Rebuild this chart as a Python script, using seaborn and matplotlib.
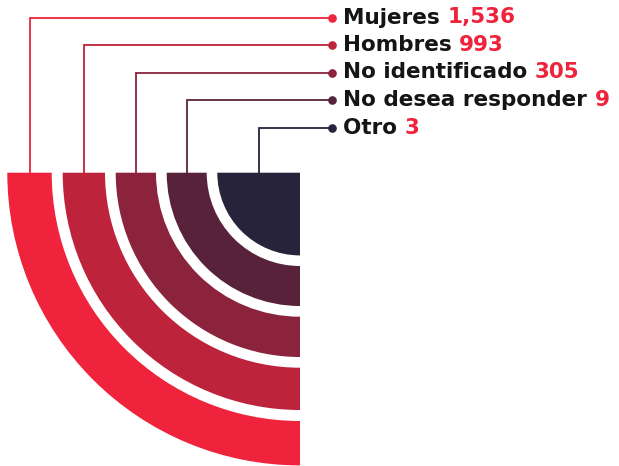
import matplotlib
matplotlib.use("Agg")
import matplotlib.pyplot as plt
from matplotlib.patches import Wedge
import seaborn as sns
import numpy as np

# --- dati ---
categorias = ["Mujeres", "Hombres", "No identificado", "No desea responder", "Otro"]
valores = [1536, 993, 305, 9, 3]
etiquetas_valor = ["1,536", "993", "305", "9", "3"]

sns.set_theme(style="white")
plt.rcParams["font.family"] = ["DejaVu Sans"]

colores = sns.blend_palette(["#ef233c", "#26233a"], len(categorias))

# geometria in pixel (cerchio con centro in alto a destra del quarto)
W, H = 619, 466
cx, cy = 300.0, 172.7
r_ext = [292.7, 237.3, 184.3, 133.3, 82.7]
r_int = [248.3, 195.0, 144.0, 93.3, 0.0]
y_label = [17.5 + 27.5 * i for i in range(len(categorias))]
x_dot = 331.7
x_text = 343

fig = plt.figure(figsize=(W / 100, H / 100), dpi=100)
ax = fig.add_axes([0, 0, 1, 1])
ax.set_xlim(0, W)
ax.set_ylim(H, 0)
ax.axis("off")

for i, cat in enumerate(categorias):
    col = colores[i]
    r0, r1 = r_ext[i], r_int[i]
    ax.add_patch(Wedge((cx, cy), r0, 90, 180, width=r0 - r1, facecolor=col, edgecolor="none"))
    xm = cx - (r0 + r1) / 2
    ax.plot([xm, xm, x_dot], [cy, y_label[i], y_label[i]], color=col, linewidth=1.3,
            solid_joinstyle="miter", zorder=3)
    ax.plot(x_dot, y_label[i], "o", color=col, markersize=5.2, zorder=4)
    t = ax.text(x_text, y_label[i], cat + " ", fontsize=15.5, fontweight="bold",
                color="#151515", va="center", ha="left")
    ax.annotate(etiquetas_valor[i], xy=(1, 0.5), xycoords=t, va="center", ha="left",
                fontsize=15.5, fontweight="bold", color="#ef233c")

fig.savefig("out.png", dpi=100)
